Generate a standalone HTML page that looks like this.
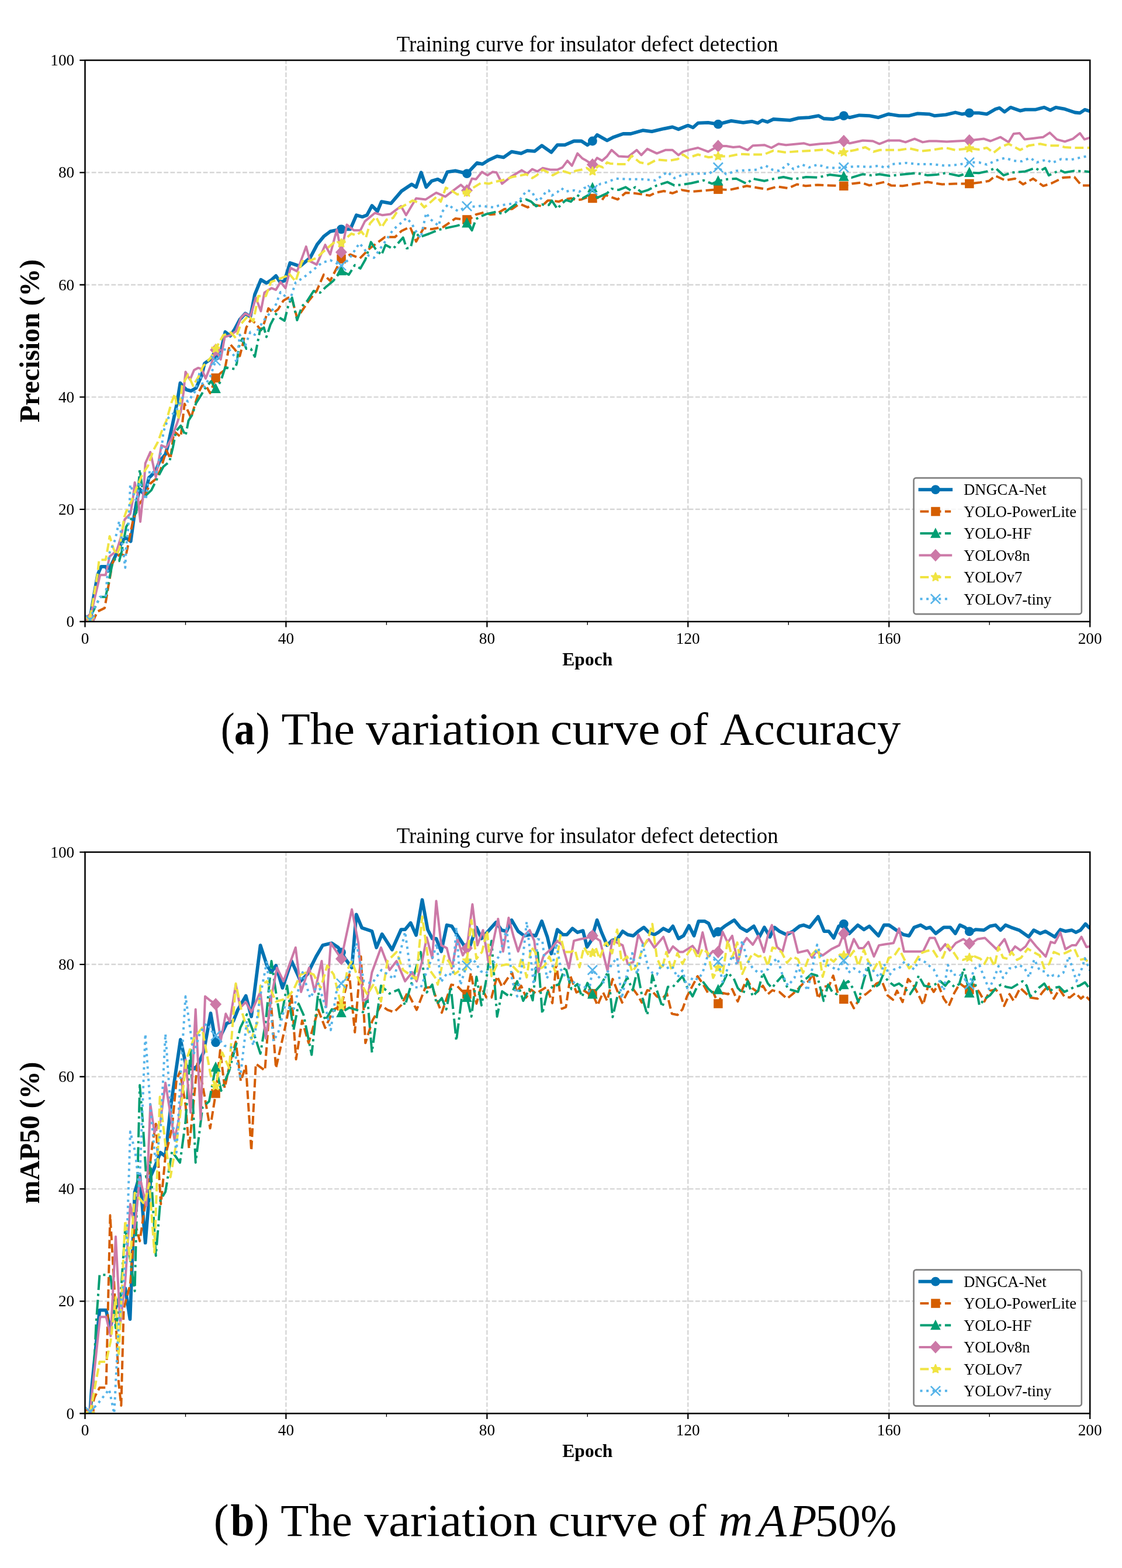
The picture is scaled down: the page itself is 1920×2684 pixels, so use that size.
<!DOCTYPE html><html><head><meta charset="utf-8"><title>Training curves</title>
<style>html,body{margin:0;padding:0;background:#fff;}svg{display:block;}</style></head><body>
<svg width="1920" height="2684" viewBox="0 0 1920 2684">
<rect width="1920" height="2684" fill="#fff"/>
<path d="M489.4 1064.0V103.1M833.4 1064.0V103.1M1177.3 1064.0V103.1M1521.3 1064.0V103.1M145.5 871.8H1865.2M145.5 679.6H1865.2M145.5 487.5H1865.2M145.5 295.3H1865.2" stroke="#d6d6d6" stroke-width="2.4" stroke-dasharray="7.83 3.4" fill="none"/>
<clipPath id="c1"><rect x="145.5" y="103.1" width="1719.7" height="960.9"/></clipPath>
<g clip-path="url(#c1)">
<polyline points="154.1,1059.2 159.3,1027.5 167.0,984.2 173.0,969.8 180.8,969.8 185.1,977.5 194.5,958.3 201.4,942.9 210.8,923.7 216.0,920.8 223.7,926.6 229.8,882.4 234.1,856.4 239.2,837.2 247.8,847.8 254.7,818.0 259.9,813.2 266.7,805.5 272.8,790.1 283.1,777.7 287.4,762.3 296.0,722.9 302.9,690.2 308.4,655.6 312.3,660.4 319.2,667.1 326.9,669.1 335.5,664.3 345.0,643.1 350.1,622.0 359.6,615.3 369.1,609.5 377.7,602.8 385.4,568.2 394.0,574.9 401.7,563.4 410.3,547.0 419.8,536.5 428.4,542.2 436.1,503.8 446.4,478.8 455.9,484.6 463.6,479.8 472.2,472.1 479.1,482.7 486.9,480.7 496.3,450.0 513.5,455.8 530.7,441.3 542.8,418.3 553.9,404.8 565.1,396.2 584.0,392.3 599.5,392.3 609.8,368.3 620.1,371.2 627.9,368.3 636.5,352.0 645.9,361.6 652.8,345.2 669.1,348.1 687.2,327.0 704.4,315.5 712.1,320.3 720.7,295.3 729.3,320.3 738.8,309.7 749.1,306.8 757.7,311.6 765.5,294.3 779.2,292.4 792.1,295.3 799.0,297.2 816.2,278.9 825.6,280.9 836.0,274.1 850.6,267.4 861.8,269.3 875.5,259.7 891.8,262.6 902.2,257.8 915.1,258.8 927.1,249.2 943.4,260.7 953.8,248.2 966.7,248.2 982.1,241.5 995.0,241.5 1005.3,248.2 1013.9,241.5 1021.7,230.9 1038.9,240.5 1050.1,234.7 1066.4,229.0 1079.3,229.0 1099.9,223.2 1115.4,225.1 1136.0,220.3 1150.7,217.4 1161.0,221.3 1177.3,214.6 1185.9,218.4 1194.5,210.7 1211.7,209.8 1228.9,212.6 1251.3,206.9 1271.9,209.8 1286.5,207.8 1296.8,210.7 1304.6,205.9 1313.2,208.8 1323.5,204.0 1351.9,205.9 1366.5,202.1 1384.5,201.1 1400.9,198.2 1409.5,203.0 1425.8,204.0 1443.9,198.2 1454.2,201.1 1470.5,197.3 1487.7,198.2 1503.2,201.1 1520.4,195.3 1538.5,198.2 1554.8,198.2 1570.3,194.4 1590.0,195.3 1599.5,198.2 1618.4,196.3 1634.8,192.5 1645.9,195.3 1658.8,193.4 1675.2,193.4 1688.9,195.3 1703.5,186.7 1710.4,184.8 1719.0,191.5 1729.3,183.8 1745.7,189.6 1754.3,187.7 1771.5,187.7 1787.0,183.8 1797.3,188.6 1806.7,183.8 1822.2,186.7 1839.4,192.5 1848.0,193.4 1856.6,187.7 1865.2,190.5" stroke="#0072B2" stroke-width="5.8" fill="none" stroke-linejoin="round"/>
<circle cx="154.1" cy="1059.2" r="7.9" fill="#0072B2"/>
<circle cx="369.1" cy="609.5" r="7.9" fill="#0072B2"/>
<circle cx="584.0" cy="392.3" r="7.9" fill="#0072B2"/>
<circle cx="799.0" cy="297.2" r="7.9" fill="#0072B2"/>
<circle cx="1013.9" cy="241.5" r="7.9" fill="#0072B2"/>
<circle cx="1228.9" cy="212.6" r="7.9" fill="#0072B2"/>
<circle cx="1443.9" cy="198.2" r="7.9" fill="#0072B2"/>
<circle cx="1658.8" cy="193.4" r="7.9" fill="#0072B2"/>
<polyline points="154.1,1061.1 161.8,1057.3 167.0,1046.7 179.0,1040.9 182.5,1021.7 185.1,1005.4 189.4,981.4 191.9,965.0 196.2,956.4 206.5,947.7 215.1,952.5 220.3,927.6 227.2,893.0 235.8,866.1 245.2,853.6 257.3,827.6 266.7,819.9 274.5,804.6 284.8,770.9 291.7,785.3 297.7,738.3 309.3,747.9 315.8,691.2 322.6,705.6 326.9,715.2 335.5,686.4 340.7,670.0 346.7,658.5 353.6,662.3 359.6,672.9 369.1,647.0 377.7,638.3 384.5,633.5 390.6,600.8 394.0,589.3 401.7,598.0 410.3,609.5 414.6,593.2 421.5,560.5 429.3,547.0 437.8,553.8 446.4,565.3 452.5,551.8 459.3,527.8 467.9,535.5 475.7,529.7 485.1,514.4 493.7,509.6 499.8,512.4 508.4,544.2 517.0,531.7 528.1,515.3 541.9,498.0 553.9,470.2 565.1,480.7 576.3,458.6 584.0,443.3 599.5,435.6 615.8,442.3 633.0,425.0 645.9,415.4 658.8,405.8 676.0,405.8 687.2,395.2 701.8,388.5 712.1,413.5 725.0,390.4 738.8,392.3 758.6,388.5 779.2,374.1 799.0,376.0 804.1,375.0 814.5,367.3 829.1,363.5 839.4,367.3 848.9,366.4 863.5,357.7 876.4,357.7 885.8,351.0 891.8,350.1 903.0,354.9 912.5,350.1 927.1,352.9 937.4,343.3 944.3,343.3 956.3,345.2 964.9,341.4 977.0,339.5 986.4,342.4 995.0,341.4 1005.3,337.6 1013.9,339.5 1024.3,338.5 1030.3,342.4 1036.3,333.7 1056.9,341.4 1070.7,329.9 1085.3,330.8 1099.9,332.8 1112.0,334.7 1121.4,329.9 1136.0,327.0 1150.7,330.8 1166.1,325.1 1183.3,328.0 1207.4,326.0 1228.9,324.1 1247.8,325.1 1265.9,321.2 1277.9,318.3 1295.1,321.2 1313.2,324.1 1330.4,319.3 1348.4,322.2 1363.9,315.5 1378.5,318.3 1399.2,316.4 1419.8,317.4 1443.9,318.3 1457.6,314.5 1474.0,312.6 1487.7,317.4 1513.5,311.6 1524.7,317.4 1544.5,318.3 1567.7,314.5 1587.5,311.6 1612.4,315.5 1634.8,314.5 1658.8,314.5 1675.2,312.6 1692.4,309.7 1703.5,301.0 1719.9,308.7 1737.1,305.8 1750.8,315.5 1768.0,305.8 1785.2,318.3 1799.9,313.5 1819.6,303.9 1838.5,303.0 1850.6,317.4 1865.2,317.4" stroke="#D55E00" stroke-width="4" fill="none" stroke-linejoin="round" stroke-dasharray="14.8 6.4"/>
<rect x="146.3" y="1053.4" width="15.5" height="15.5" fill="#D55E00"/>
<rect x="361.3" y="639.2" width="15.5" height="15.5" fill="#D55E00"/>
<rect x="576.3" y="435.5" width="15.5" height="15.5" fill="#D55E00"/>
<rect x="791.2" y="368.2" width="15.5" height="15.5" fill="#D55E00"/>
<rect x="1006.2" y="331.7" width="15.5" height="15.5" fill="#D55E00"/>
<rect x="1221.2" y="316.4" width="15.5" height="15.5" fill="#D55E00"/>
<rect x="1436.1" y="310.6" width="15.5" height="15.5" fill="#D55E00"/>
<rect x="1651.1" y="306.7" width="15.5" height="15.5" fill="#D55E00"/>
<polyline points="154.1,1061.1 157.5,1050.5 171.3,1021.7 180.8,1021.7 186.8,991.9 191.9,966.9 197.1,956.4 204.0,960.2 208.3,943.9 216.0,901.6 224.6,888.2 233.2,877.6 239.2,803.6 243.5,836.3 248.7,848.8 259.0,839.1 268.5,819.9 279.6,798.8 290.0,790.1 296.0,765.2 301.1,738.3 309.3,728.6 317.5,745.9 322.6,720.0 328.6,710.4 335.5,690.2 343.3,677.7 351.9,663.3 361.3,652.7 369.1,665.2 377.7,652.7 385.4,628.7 394.0,630.6 401.7,631.6 405.2,622.0 408.6,594.1 414.6,579.7 421.5,597.0 429.3,597.0 436.1,610.5 444.7,566.3 451.6,560.5 455.9,576.8 462.8,555.7 472.2,537.4 479.1,544.2 486.9,549.0 493.7,521.1 499.8,509.6 508.4,548.0 517.0,524.0 525.6,515.3 536.7,498.0 547.9,500.9 556.5,492.3 570.3,480.7 584.0,463.4 596.9,470.2 607.2,453.8 616.7,459.6 625.3,444.2 634.8,414.4 642.5,426.0 652.8,436.5 659.7,419.2 672.6,426.0 679.5,418.3 689.8,406.7 695.8,425.0 702.7,424.0 709.6,396.2 718.2,405.8 734.5,400.0 750.8,393.3 768.0,389.4 780.9,386.6 799.0,381.8 807.6,394.3 814.5,375.0 823.1,370.2 832.5,366.4 848.9,362.5 860.9,366.4 873.8,355.8 888.4,345.2 900.4,341.4 909.0,345.2 917.6,352.9 927.1,350.1 939.1,351.0 944.3,343.3 953.8,357.7 959.8,350.1 968.4,342.4 977.0,345.2 987.3,333.7 996.8,339.5 1007.1,333.7 1013.9,321.2 1021.7,338.5 1028.6,335.6 1038.9,330.8 1046.6,323.1 1058.7,325.1 1070.7,320.3 1079.3,326.0 1087.0,320.3 1097.4,328.9 1109.4,325.1 1124.0,317.4 1142.1,311.6 1154.1,317.4 1166.1,316.4 1183.3,313.5 1204.0,308.7 1218.6,314.5 1228.9,309.7 1245.2,306.8 1259.9,305.8 1277.9,314.5 1288.2,305.8 1308.0,309.7 1325.2,305.8 1340.7,303.0 1357.9,306.8 1379.4,303.0 1399.2,303.9 1419.8,299.1 1443.9,302.0 1457.6,303.9 1476.5,298.2 1491.2,300.1 1504.9,298.2 1522.1,301.0 1547.9,298.2 1567.7,296.2 1587.5,300.1 1602.1,299.1 1618.4,296.2 1640.8,301.0 1658.8,295.3 1675.2,296.2 1688.9,293.4 1703.5,287.6 1717.3,300.1 1731.9,295.3 1754.3,293.4 1771.5,287.6 1780.1,292.4 1788.7,287.6 1794.7,300.1 1813.6,291.4 1822.2,295.3 1838.5,292.4 1858.3,293.4 1865.2,294.3" stroke="#009E73" stroke-width="4" fill="none" stroke-linejoin="round" stroke-dasharray="25.6 6.4 4 6.4"/>
<polygon points="154.1,1051.4 145.3,1068.9 162.9,1068.9" fill="#009E73"/>
<polygon points="369.1,655.5 360.3,673.0 377.9,673.0" fill="#009E73"/>
<polygon points="584.0,453.7 575.2,471.2 592.8,471.2" fill="#009E73"/>
<polygon points="799.0,372.1 790.2,389.6 807.8,389.6" fill="#009E73"/>
<polygon points="1013.9,311.5 1005.1,329.0 1022.7,329.0" fill="#009E73"/>
<polygon points="1228.9,300.0 1220.1,317.5 1237.7,317.5" fill="#009E73"/>
<polygon points="1443.9,292.3 1435.1,309.8 1452.7,309.8" fill="#009E73"/>
<polygon points="1658.8,285.6 1650.0,303.1 1667.6,303.1" fill="#009E73"/>
<polyline points="154.1,1059.2 156.7,1046.7 171.3,984.2 180.8,984.2 187.6,952.5 199.7,942.9 206.5,920.8 213.4,889.1 222.9,879.5 227.2,856.4 230.6,825.7 235.8,846.8 240.1,893.0 246.1,836.3 248.7,793.0 257.3,773.8 266.7,817.0 276.2,762.3 284.8,766.1 293.4,750.7 302.9,724.8 309.3,704.6 314.0,672.0 317.5,636.4 325.2,649.9 332.1,633.5 339.0,629.7 345.0,631.6 351.9,647.9 361.3,623.9 369.1,598.9 377.7,615.3 384.5,576.8 394.0,573.9 403.5,567.2 412.1,544.2 419.8,536.5 428.4,541.3 437.8,509.6 446.4,532.6 452.5,500.9 464.5,493.2 472.2,496.1 480.0,482.7 488.6,493.2 497.2,458.6 508.4,464.4 523.8,422.1 530.7,447.1 541.9,452.9 556.5,419.2 565.1,435.6 576.3,393.3 584.0,431.7 593.5,384.6 605.5,394.3 616.7,394.3 624.4,378.9 641.6,364.5 654.5,368.3 668.3,366.4 686.3,352.9 694.9,368.3 712.1,339.5 728.5,341.4 746.5,329.9 762.0,336.6 775.8,326.0 788.7,316.4 799.0,326.0 807.6,305.8 814.5,306.8 824.8,294.3 834.2,300.1 842.8,294.3 849.7,295.3 859.2,314.5 873.8,303.0 883.3,297.2 892.7,291.4 902.2,297.2 910.8,289.5 919.4,293.4 928.8,287.6 941.7,290.5 953.8,290.5 962.4,286.6 971.0,275.1 978.7,283.7 988.2,262.6 996.8,271.3 1003.6,275.1 1013.9,281.8 1021.7,270.3 1030.3,275.1 1038.9,267.4 1046.6,256.8 1058.7,267.4 1075.0,268.4 1089.6,256.8 1097.4,265.5 1107.7,254.9 1124.0,262.6 1138.6,256.8 1150.7,256.8 1161.0,265.5 1168.7,259.7 1181.6,255.9 1194.5,253.0 1211.7,259.7 1228.9,250.1 1242.7,250.1 1254.7,252.0 1265.9,251.1 1279.6,256.8 1288.2,249.2 1308.0,248.2 1320.1,253.0 1332.1,246.3 1345.0,248.2 1355.3,247.2 1375.9,245.3 1385.4,248.2 1403.5,246.3 1420.7,245.3 1443.9,241.5 1454.2,245.3 1476.5,240.5 1493.7,241.5 1504.9,246.3 1519.5,240.5 1539.3,240.5 1549.6,243.4 1565.1,237.6 1578.9,243.4 1590.0,241.5 1602.1,241.5 1620.1,242.4 1638.2,241.5 1658.8,240.5 1683.8,237.6 1694.9,241.5 1712.1,234.7 1725.9,243.4 1734.5,229.0 1744.8,228.0 1753.4,238.6 1768.9,236.7 1785.2,234.7 1796.4,227.1 1808.4,238.6 1822.2,242.4 1836.0,237.6 1848.0,228.0 1855.7,238.6 1865.2,235.7" stroke="#CC79A7" stroke-width="4" fill="none" stroke-linejoin="round"/>
<polygon points="154.1,1048.4 164.1,1059.2 154.1,1070.0 144.1,1059.2" fill="#CC79A7"/>
<polygon points="369.1,588.1 379.1,598.9 369.1,609.7 359.1,598.9" fill="#CC79A7"/>
<polygon points="584.0,420.9 594.0,431.7 584.0,442.5 574.0,431.7" fill="#CC79A7"/>
<polygon points="799.0,315.2 809.0,326.0 799.0,336.8 789.0,326.0" fill="#CC79A7"/>
<polygon points="1013.9,271.0 1023.9,281.8 1013.9,292.6 1003.9,281.8" fill="#CC79A7"/>
<polygon points="1228.9,239.3 1238.9,250.1 1228.9,260.9 1218.9,250.1" fill="#CC79A7"/>
<polygon points="1443.9,230.7 1453.9,241.5 1443.9,252.3 1433.9,241.5" fill="#CC79A7"/>
<polygon points="1658.8,229.7 1668.8,240.5 1658.8,251.3 1648.8,240.5" fill="#CC79A7"/>
<polyline points="154.1,1059.2 155.0,1053.4 167.0,981.4 169.6,958.3 180.8,958.3 185.1,934.3 187.6,917.9 194.5,940.0 199.7,949.7 204.8,937.2 212.6,885.3 216.0,875.7 224.6,858.4 233.2,836.3 243.5,812.2 253.0,797.8 262.4,770.9 270.2,756.5 278.8,732.5 284.8,720.0 293.4,689.2 299.4,673.9 305.4,718.1 311.5,660.4 321.8,641.2 330.4,660.4 339.0,646.0 347.6,626.8 360.5,612.4 369.1,597.0 382.0,573.9 394.9,569.1 403.5,578.7 412.1,554.7 425.0,540.3 433.5,549.9 442.1,506.7 455.0,506.7 463.6,482.7 476.5,477.9 489.4,473.0 493.7,467.3 505.8,481.7 517.0,447.1 528.1,447.1 541.9,441.3 556.5,427.9 573.7,413.5 584.0,416.4 593.5,406.7 601.2,400.0 609.8,402.9 618.4,396.2 626.2,406.7 633.0,382.7 643.4,371.2 652.8,389.4 661.4,376.0 672.6,373.1 682.9,356.8 693.2,351.0 706.1,343.3 719.9,348.1 725.9,354.9 734.5,348.1 747.4,336.6 754.3,345.2 762.9,321.2 772.3,326.0 782.6,332.8 799.0,329.9 808.4,322.2 823.9,312.6 836.8,314.5 844.6,311.6 859.2,308.7 876.4,303.0 891.8,300.1 900.4,298.2 910.8,304.9 918.5,300.1 928.8,290.5 940.0,296.2 946.0,300.1 959.8,292.4 968.4,294.3 977.0,297.2 984.7,292.4 995.0,290.5 1003.6,287.6 1013.9,293.4 1024.3,283.7 1032.0,286.6 1038.9,278.0 1044.0,279.9 1058.7,280.9 1070.7,280.9 1081.0,266.5 1094.8,278.0 1109.4,280.9 1124.0,273.2 1144.6,275.1 1160.1,272.2 1168.7,264.5 1177.3,270.3 1194.5,264.5 1212.6,269.3 1228.9,267.4 1247.8,267.4 1265.9,263.6 1283.9,264.5 1307.2,264.5 1323.5,257.8 1343.3,260.7 1369.9,258.8 1390.6,257.8 1413.8,255.9 1429.3,263.6 1443.9,260.7 1463.7,256.8 1480.8,252.0 1494.6,259.7 1505.8,256.8 1523.0,256.8 1539.3,256.8 1556.5,254.0 1576.3,258.8 1593.5,256.8 1618.4,253.0 1634.8,256.8 1658.8,254.0 1675.2,255.9 1688.9,253.0 1700.1,261.6 1712.1,252.0 1725.9,246.3 1745.7,256.8 1760.3,249.2 1780.1,246.3 1793.8,249.2 1811.0,249.2 1822.2,252.0 1838.5,253.0 1865.2,253.0" stroke="#F0E442" stroke-width="4" fill="none" stroke-linejoin="round" stroke-dasharray="14.8 6.4"/>
<polygon points="154.1,1051.2 156.2,1056.4 161.7,1056.7 157.4,1060.3 158.8,1065.7 154.1,1062.7 149.4,1065.7 150.8,1060.3 146.5,1056.7 152.0,1056.4" fill="#F0E442" stroke="#F0E442" stroke-width="1.8" stroke-linejoin="bevel"/>
<polygon points="369.1,589.0 371.1,594.2 376.7,594.5 372.4,598.1 373.8,603.5 369.1,600.5 364.4,603.5 365.7,598.1 361.5,594.5 367.0,594.2" fill="#F0E442" stroke="#F0E442" stroke-width="1.8" stroke-linejoin="bevel"/>
<polygon points="584.0,408.4 586.1,413.5 591.6,413.9 587.4,417.4 588.7,422.8 584.0,419.9 579.3,422.8 580.7,417.4 576.4,413.9 582.0,413.5" fill="#F0E442" stroke="#F0E442" stroke-width="1.8" stroke-linejoin="bevel"/>
<polygon points="799.0,321.9 801.0,327.0 806.6,327.4 802.3,331.0 803.7,336.3 799.0,333.4 794.3,336.3 795.7,331.0 791.4,327.4 796.9,327.0" fill="#F0E442" stroke="#F0E442" stroke-width="1.8" stroke-linejoin="bevel"/>
<polygon points="1013.9,285.4 1016.0,290.5 1021.6,290.9 1017.3,294.4 1018.7,299.8 1013.9,296.9 1009.2,299.8 1010.6,294.4 1006.3,290.9 1011.9,290.5" fill="#F0E442" stroke="#F0E442" stroke-width="1.8" stroke-linejoin="bevel"/>
<polygon points="1228.9,259.4 1231.0,264.6 1236.5,264.9 1232.2,268.5 1233.6,273.9 1228.9,270.9 1224.2,273.9 1225.6,268.5 1221.3,264.9 1226.9,264.6" fill="#F0E442" stroke="#F0E442" stroke-width="1.8" stroke-linejoin="bevel"/>
<polygon points="1443.9,252.7 1445.9,257.9 1451.5,258.2 1447.2,261.8 1448.6,267.2 1443.9,264.2 1439.2,267.2 1440.5,261.8 1436.3,258.2 1441.8,257.9" fill="#F0E442" stroke="#F0E442" stroke-width="1.8" stroke-linejoin="bevel"/>
<polygon points="1658.8,246.0 1660.9,251.1 1666.4,251.5 1662.2,255.0 1663.5,260.4 1658.8,257.5 1654.1,260.4 1655.5,255.0 1651.2,251.5 1656.8,251.1" fill="#F0E442" stroke="#F0E442" stroke-width="1.8" stroke-linejoin="bevel"/>
<polyline points="154.1,1061.1 160.1,1043.8 171.3,1021.7 180.8,1021.7 182.5,998.7 184.2,979.4 186.8,947.7 197.1,923.7 204.0,892.0 206.5,908.3 214.3,971.8 216.0,935.2 219.4,904.5 222.0,854.5 222.9,829.5 233.2,858.4 239.2,824.7 249.5,855.5 256.4,804.6 266.7,812.2 276.2,770.9 279.6,739.2 288.2,715.2 301.1,703.7 312.3,680.6 321.8,687.3 333.8,670.0 341.5,638.3 348.4,664.3 359.6,645.0 369.1,617.2 380.2,599.9 390.6,596.0 400.9,609.5 405.2,621.0 410.3,573.0 419.8,591.2 428.4,568.2 436.1,573.0 447.3,554.7 455.9,542.2 463.6,534.5 472.2,521.1 480.0,500.0 488.6,507.6 496.3,513.4 505.8,483.6 519.5,475.0 536.7,461.5 550.5,450.0 565.1,445.2 584.0,454.8 596.9,444.2 615.0,416.4 622.7,425.0 630.5,437.5 639.9,441.3 651.1,425.0 663.1,407.7 672.6,393.3 683.8,383.7 695.8,373.1 704.4,382.7 712.1,396.2 719.9,407.7 729.3,364.5 736.2,375.0 750.8,386.6 756.0,363.5 766.3,350.1 775.8,356.8 784.4,361.6 799.0,352.9 814.5,353.9 824.8,352.0 834.2,353.9 844.6,354.9 853.2,352.0 866.1,350.1 879.8,348.1 888.4,344.3 894.4,334.7 902.2,326.0 910.8,328.0 915.1,338.5 921.1,344.3 928.8,336.6 934.0,328.0 939.1,326.0 944.3,334.7 953.8,328.9 960.6,322.2 968.4,328.0 976.1,326.0 983.0,326.0 991.6,328.0 999.3,322.2 1007.1,319.3 1013.9,325.1 1021.7,319.3 1027.7,314.5 1036.3,312.6 1054.4,305.8 1074.1,306.8 1097.4,306.8 1121.4,308.7 1142.1,294.3 1154.1,304.9 1166.1,300.1 1177.3,298.2 1195.4,297.2 1213.4,297.2 1228.9,286.6 1242.7,298.2 1259.9,292.4 1277.9,291.4 1295.1,290.5 1310.6,283.7 1321.8,290.5 1333.8,292.4 1348.4,280.9 1357.9,289.5 1372.5,281.8 1384.5,286.6 1399.2,281.8 1413.8,286.6 1429.3,287.6 1443.9,286.6 1465.4,284.7 1487.7,285.7 1504.9,283.7 1516.1,287.6 1527.3,280.9 1550.5,278.9 1570.3,280.9 1592.6,280.9 1618.4,283.7 1640.8,281.8 1658.8,278.0 1675.2,278.0 1688.9,281.8 1703.5,275.1 1719.9,270.3 1734.5,275.1 1748.3,276.1 1762.9,270.3 1774.1,278.0 1791.3,273.2 1799.9,278.9 1816.2,272.2 1833.4,273.2 1850.6,269.3 1865.2,266.5" stroke="#56B4E9" stroke-width="4" fill="none" stroke-linejoin="round" stroke-dasharray="4 6.6"/>
<path d="M146.0 1053.0L162.2 1069.2M146.0 1069.2L162.2 1053.0" stroke="#56B4E9" stroke-width="2.6" fill="none"/>
<path d="M361.0 609.1L377.2 625.3M361.0 625.3L377.2 609.1" stroke="#56B4E9" stroke-width="2.6" fill="none"/>
<path d="M575.9 446.7L592.1 462.9M575.9 462.9L592.1 446.7" stroke="#56B4E9" stroke-width="2.6" fill="none"/>
<path d="M790.9 344.8L807.1 361.0M790.9 361.0L807.1 344.8" stroke="#56B4E9" stroke-width="2.6" fill="none"/>
<path d="M1005.8 317.0L1022.0 333.2M1005.8 333.2L1022.0 317.0" stroke="#56B4E9" stroke-width="2.6" fill="none"/>
<path d="M1220.8 278.5L1237.0 294.7M1220.8 294.7L1237.0 278.5" stroke="#56B4E9" stroke-width="2.6" fill="none"/>
<path d="M1435.8 278.5L1452.0 294.7M1435.8 294.7L1452.0 278.5" stroke="#56B4E9" stroke-width="2.6" fill="none"/>
<path d="M1650.7 269.9L1666.9 286.1M1650.7 286.1L1666.9 269.9" stroke="#56B4E9" stroke-width="2.6" fill="none"/>
</g>
<rect x="145.5" y="103.1" width="1719.7" height="960.9" fill="none" stroke="#000" stroke-width="2.5"/>
<path d="M145.5 1064.0v9.4M489.4 1064.0v9.4M833.4 1064.0v9.4M1177.3 1064.0v9.4M1521.3 1064.0v9.4M1865.2 1064.0v9.4M145.5 1064.0h-9.2M145.5 871.8h-9.2M145.5 679.6h-9.2M145.5 487.5h-9.2M145.5 295.3h-9.2M145.5 103.1h-9.2" stroke="#000" stroke-width="2.3" fill="none"/>
<path d="M317.5 1064.0v5.7M661.4 1064.0v5.7M1005.3 1064.0v5.7M1349.3 1064.0v5.7M1693.2 1064.0v5.7" stroke="#000" stroke-width="1.4" fill="none"/>
<g font-family="'Liberation Serif','Times New Roman',serif" font-size="27.3" fill="#000">
<text x="145.5" y="1101.8" text-anchor="middle">0</text>
<text x="489.4" y="1101.8" text-anchor="middle">40</text>
<text x="833.4" y="1101.8" text-anchor="middle">80</text>
<text x="1177.3" y="1101.8" text-anchor="middle">120</text>
<text x="1521.3" y="1101.8" text-anchor="middle">160</text>
<text x="1865.2" y="1101.8" text-anchor="middle">200</text>
<text x="127.2" y="1073.1" text-anchor="end">0</text>
<text x="127.2" y="880.9" text-anchor="end">20</text>
<text x="127.2" y="688.7" text-anchor="end">40</text>
<text x="127.2" y="496.6" text-anchor="end">60</text>
<text x="127.2" y="304.4" text-anchor="end">80</text>
<text x="127.2" y="112.2" text-anchor="end">100</text>
</g>
<text x="1005.3" y="87.7" font-family="'Liberation Serif','Times New Roman',serif" font-size="37" text-anchor="middle">Training curve for insulator defect detection</text>
<text x="1005.3" y="1138.7" font-family="'Liberation Serif','Times New Roman',serif" font-size="31.6" font-weight="bold" text-anchor="middle">Epoch</text>
<text transform="translate(67.1,583.5) rotate(-90)" font-family="'Liberation Serif','Times New Roman',serif" font-size="47.8" font-weight="bold" text-anchor="middle">Precision (%)</text>
<rect x="1563.6" y="818.1" width="287.2" height="233.0" rx="4" fill="#fff" fill-opacity="0.8" stroke="#808080" stroke-width="2.6"/>
<path d="M1574.5 838.1H1627.2" stroke="#0072B2" stroke-width="5.8" stroke-linecap="square"/>
<circle cx="1600.9" cy="838.1" r="7.9" fill="#0072B2"/>
<text x="1649.2" y="847.4" font-family="'Liberation Serif','Times New Roman',serif" font-size="26.5">DNGCA-Net</text>
<path d="M1574.5 875.6H1627.2" stroke="#D55E00" stroke-width="4" stroke-dasharray="14.8 6.4"/>
<rect x="1593.2" y="867.8" width="15.5" height="15.5" fill="#D55E00"/>
<text x="1649.2" y="884.9" font-family="'Liberation Serif','Times New Roman',serif" font-size="26.5">YOLO-PowerLite</text>
<path d="M1574.5 913.0H1627.2" stroke="#009E73" stroke-width="4" stroke-dasharray="25.6 6.4 4 6.4"/>
<polygon points="1600.9,903.3 1592.1,920.8 1609.7,920.8" fill="#009E73"/>
<text x="1649.2" y="922.3" font-family="'Liberation Serif','Times New Roman',serif" font-size="26.5">YOLO-HF</text>
<path d="M1574.5 950.5H1627.2" stroke="#CC79A7" stroke-width="4" stroke-linecap="square"/>
<polygon points="1600.9,939.7 1610.9,950.5 1600.9,961.2 1590.9,950.5" fill="#CC79A7"/>
<text x="1649.2" y="959.8" font-family="'Liberation Serif','Times New Roman',serif" font-size="26.5">YOLOv8n</text>
<path d="M1574.5 987.9H1627.2" stroke="#F0E442" stroke-width="4" stroke-dasharray="14.8 6.4"/>
<polygon points="1600.9,979.9 1603.0,985.1 1608.5,985.4 1604.2,989.0 1605.6,994.4 1600.9,991.4 1596.2,994.4 1597.6,989.0 1593.3,985.4 1598.8,985.1" fill="#F0E442" stroke="#F0E442" stroke-width="1.8" stroke-linejoin="bevel"/>
<text x="1649.2" y="997.2" font-family="'Liberation Serif','Times New Roman',serif" font-size="26.5">YOLOv7</text>
<path d="M1574.5 1025.3H1627.2" stroke="#56B4E9" stroke-width="4" stroke-dasharray="4 6.6"/>
<path d="M1592.8 1017.2L1609.0 1033.4M1592.8 1033.4L1609.0 1017.2" stroke="#56B4E9" stroke-width="2.6" fill="none"/>
<text x="1649.2" y="1034.6" font-family="'Liberation Serif','Times New Roman',serif" font-size="26.5">YOLOv7-tiny</text>
<path d="M489.4 2419.5V1458.6M833.4 2419.5V1458.6M1177.3 2419.5V1458.6M1521.3 2419.5V1458.6M145.5 2227.3H1865.2M145.5 2035.1H1865.2M145.5 1843.0H1865.2M145.5 1650.8H1865.2" stroke="#d6d6d6" stroke-width="2.4" stroke-dasharray="7.83 3.4" fill="none"/>
<clipPath id="c2"><rect x="145.5" y="1458.6" width="1719.7" height="960.9"/></clipPath>
<g clip-path="url(#c2)">
<polyline points="154.1,2419.5 156.7,2378.2 170.4,2242.7 181.6,2242.7 188.1,2273.4 198.0,2238.9 205.7,2216.8 214.3,2205.2 222.5,2258.1 230.6,2040.9 239.2,2011.1 248.7,2127.4 258.1,2013.0 266.7,1992.9 274.5,1972.7 283.1,1979.4 292.5,1891.0 308.9,1779.5 319.2,1827.6 326.9,1823.7 332.9,1829.5 338.1,1823.7 348.4,1801.6 360.5,1734.4 369.1,1784.3 376.8,1774.7 388.0,1751.7 399.2,1747.8 406.9,1728.6 420.7,1704.6 430.1,1740.1 445.6,1618.1 456.8,1652.7 464.5,1664.2 472.2,1652.7 483.4,1691.1 498.9,1645.0 514.4,1679.6 525.6,1668.1 541.0,1637.3 552.2,1618.1 567.7,1614.3 578.9,1622.0 590.9,1641.2 602.1,1656.5 609.8,1565.3 619.3,1588.3 636.5,1594.1 644.2,1622.0 653.7,1598.9 670.9,1625.8 686.3,1591.2 693.2,1591.2 702.7,1579.7 712.1,1600.8 722.5,1540.3 731.9,1591.2 739.7,1606.6 746.5,1606.6 755.1,1628.7 764.6,1583.5 773.2,1585.4 784.4,1603.7 793.8,1618.1 802.4,1624.8 815.3,1587.4 823.9,1606.6 836.8,1592.2 848.9,1578.7 858.3,1592.2 866.9,1594.1 875.5,1574.9 886.7,1594.1 897.0,1601.8 907.3,1599.9 916.8,1601.8 927.1,1576.8 936.6,1603.7 943.4,1632.5 953.8,1591.2 963.2,1599.9 970.1,1599.9 979.6,1589.3 988.2,1596.0 997.6,1593.1 1004.5,1621.0 1011.4,1610.4 1021.7,1574.9 1029.4,1596.0 1038.9,1618.1 1047.5,1609.5 1056.1,1607.5 1065.5,1594.1 1074.1,1599.9 1083.6,1601.8 1092.2,1594.1 1101.7,1587.4 1110.3,1596.0 1119.7,1599.9 1126.6,1596.0 1135.2,1589.3 1144.6,1594.1 1151.5,1585.4 1161.0,1606.6 1169.6,1601.8 1179.0,1584.5 1187.6,1601.8 1195.4,1576.8 1205.7,1576.8 1212.6,1580.6 1222.0,1601.8 1230.6,1593.1 1240.1,1585.4 1256.4,1574.9 1266.7,1587.4 1277.9,1594.1 1290.0,1585.4 1299.4,1603.7 1308.0,1587.4 1317.5,1603.7 1325.2,1587.4 1333.8,1594.1 1345.9,1599.9 1357.0,1594.1 1368.2,1585.4 1375.1,1583.5 1385.4,1587.4 1400.0,1569.1 1410.3,1594.1 1418.1,1594.1 1426.7,1605.6 1435.3,1585.4 1443.9,1581.6 1453.3,1597.9 1467.9,1583.5 1478.3,1591.2 1487.7,1585.4 1503.2,1601.8 1512.7,1583.5 1521.3,1583.5 1532.4,1591.2 1546.2,1599.9 1555.7,1601.8 1564.3,1587.4 1575.4,1583.5 1584.9,1589.3 1591.8,1587.4 1601.2,1597.9 1615.0,1587.4 1626.2,1587.4 1634.8,1597.9 1642.5,1583.5 1651.1,1587.4 1660.6,1596.0 1669.2,1591.2 1683.8,1592.2 1694.1,1585.4 1703.5,1583.5 1712.1,1592.2 1720.7,1583.5 1730.2,1587.4 1744.0,1592.2 1760.3,1603.7 1768.9,1592.2 1780.1,1597.9 1788.7,1594.1 1805.0,1603.7 1814.5,1591.2 1823.1,1594.1 1834.2,1592.2 1841.1,1596.0 1848.9,1592.2 1857.5,1581.6 1865.2,1589.3" stroke="#0072B2" stroke-width="5.8" fill="none" stroke-linejoin="round"/>
<circle cx="154.1" cy="2419.5" r="7.9" fill="#0072B2"/>
<circle cx="369.1" cy="1784.3" r="7.9" fill="#0072B2"/>
<circle cx="584.0" cy="1630.2" r="7.9" fill="#0072B2"/>
<circle cx="799.0" cy="1622.1" r="7.9" fill="#0072B2"/>
<circle cx="1013.9" cy="1601.5" r="7.9" fill="#0072B2"/>
<circle cx="1228.9" cy="1594.9" r="7.9" fill="#0072B2"/>
<circle cx="1443.9" cy="1581.6" r="7.9" fill="#0072B2"/>
<circle cx="1658.8" cy="1594.4" r="7.9" fill="#0072B2"/>
<polyline points="154.1,2419.5 161.8,2391.6 170.4,2375.3 181.6,2375.3 188.5,2080.3 195.4,2198.5 203.1,2366.7 207.4,2406.0 211.7,2240.8 222.9,2198.5 230.6,2091.8 239.2,2124.5 250.4,2047.6 260.7,1959.2 266.7,1923.7 275.3,2061.1 283.1,1978.4 294.3,1931.4 302.0,1848.7 308.0,1834.3 317.5,1891.0 323.5,1966.0 338.1,1817.0 347.6,1862.2 359.6,1931.4 369.1,1871.8 376.8,1797.8 384.5,1862.2 394.9,1814.1 403.5,1783.4 412.1,1850.6 420.7,1824.7 430.1,1969.8 437.8,1820.9 453.3,1832.4 462.8,1702.7 472.2,1828.5 487.7,1759.4 498.9,1702.7 506.6,1813.2 517.0,1746.9 528.1,1785.3 544.5,1728.6 556.5,1759.4 571.1,1727.7 584.0,1721.9 597.8,1668.1 607.2,1767.0 617.6,1637.3 625.3,1785.3 637.3,1746.9 652.0,1720.9 663.1,1728.6 674.3,1732.5 686.3,1720.9 697.5,1698.8 713.0,1728.6 727.6,1691.1 739.7,1689.2 750.8,1720.9 756.0,1733.4 772.3,1685.4 781.8,1687.3 791.2,1696.9 799.0,1701.7 805.9,1665.2 815.3,1718.0 823.1,1689.2 832.5,1707.5 841.1,1707.5 850.6,1671.0 859.2,1689.2 868.6,1674.8 876.4,1665.2 884.1,1698.8 891.8,1687.3 900.4,1707.5 909.0,1694.0 916.8,1700.7 928.0,1694.0 935.7,1689.2 945.2,1717.1 952.0,1648.9 961.5,1726.7 968.4,1723.8 976.1,1671.0 986.4,1698.8 996.8,1694.0 1007.1,1700.7 1013.9,1700.7 1022.5,1720.9 1032.0,1698.8 1038.9,1713.2 1048.3,1675.8 1057.8,1699.8 1064.7,1716.1 1074.1,1697.9 1083.6,1693.1 1091.3,1703.6 1098.2,1716.1 1107.7,1695.0 1116.3,1696.9 1124.0,1705.6 1133.5,1709.4 1141.2,1700.7 1149.8,1735.3 1159.3,1737.3 1167.9,1727.7 1175.6,1705.6 1185.1,1687.3 1193.7,1671.0 1202.3,1683.5 1211.7,1699.8 1220.3,1697.9 1228.9,1718.0 1236.6,1699.8 1246.1,1701.7 1253.0,1693.1 1262.4,1714.2 1270.2,1694.0 1277.9,1675.8 1286.5,1691.1 1296.0,1697.9 1305.4,1687.3 1314.0,1701.7 1321.8,1695.0 1329.5,1697.9 1333.8,1697.9 1346.7,1709.4 1356.2,1701.7 1365.6,1693.1 1374.2,1683.5 1383.7,1679.6 1391.4,1667.1 1400.0,1709.4 1409.5,1689.2 1418.9,1687.3 1425.8,1670.0 1433.6,1699.8 1443.9,1710.4 1454.2,1712.3 1461.1,1725.7 1472.2,1707.5 1481.7,1701.7 1491.2,1694.0 1499.8,1683.5 1509.2,1679.6 1518.7,1703.6 1528.1,1711.3 1535.0,1695.9 1544.5,1715.2 1553.9,1675.8 1562.5,1685.4 1570.3,1699.8 1579.7,1720.0 1589.2,1683.5 1597.8,1697.9 1605.5,1685.4 1615.0,1709.4 1623.6,1721.9 1633.0,1699.8 1642.5,1683.5 1650.2,1689.2 1658.8,1694.0 1666.6,1685.4 1676.0,1698.8 1684.6,1714.2 1694.1,1695.9 1703.5,1694.0 1711.3,1699.8 1718.2,1721.9 1727.6,1701.7 1734.5,1713.2 1745.7,1691.1 1755.1,1699.8 1762.9,1707.5 1775.8,1709.4 1784.4,1697.9 1793.8,1687.3 1803.3,1709.4 1812.7,1693.1 1821.3,1705.6 1830.8,1707.5 1840.3,1699.8 1849.7,1709.4 1856.6,1703.6 1865.2,1712.3" stroke="#D55E00" stroke-width="4" fill="none" stroke-linejoin="round" stroke-dasharray="14.8 6.4"/>
<rect x="146.3" y="2411.8" width="15.5" height="15.5" fill="#D55E00"/>
<rect x="361.3" y="1864.0" width="15.5" height="15.5" fill="#D55E00"/>
<rect x="576.3" y="1714.1" width="15.5" height="15.5" fill="#D55E00"/>
<rect x="791.2" y="1694.0" width="15.5" height="15.5" fill="#D55E00"/>
<rect x="1006.2" y="1693.0" width="15.5" height="15.5" fill="#D55E00"/>
<rect x="1221.2" y="1710.3" width="15.5" height="15.5" fill="#D55E00"/>
<rect x="1436.1" y="1702.6" width="15.5" height="15.5" fill="#D55E00"/>
<rect x="1651.1" y="1686.3" width="15.5" height="15.5" fill="#D55E00"/>
<polyline points="154.1,2419.5 158.4,2391.6 164.4,2267.7 170.4,2182.2 181.6,2182.2 189.4,2185.0 198.0,2273.4 205.7,2229.2 214.3,2102.4 222.9,2157.2 230.6,2210.0 239.2,1857.4 244.4,1920.8 250.4,2019.8 257.3,1987.1 266.7,2149.5 274.5,2054.4 283.1,2039.9 294.3,1970.8 308.0,1990.0 317.5,1919.8 326.1,1796.8 334.7,1990.0 346.7,1894.8 357.9,1885.2 369.1,1826.6 378.5,1867.0 392.3,1832.4 403.5,1790.1 411.2,1759.4 422.4,1736.3 433.5,1766.1 445.6,1803.6 455.0,1746.9 464.5,1645.0 472.2,1698.8 480.0,1747.8 491.2,1687.3 502.3,1763.2 510.9,1718.0 519.5,1737.3 533.3,1805.5 544.5,1698.8 556.5,1746.9 567.7,1727.7 584.0,1733.4 597.8,1724.8 609.8,1728.6 621.0,1732.5 628.7,1708.4 636.5,1801.6 652.0,1687.3 666.6,1700.7 682.0,1694.0 693.2,1720.9 705.3,1679.6 719.9,1629.6 730.2,1698.8 739.7,1685.4 747.4,1719.0 756.0,1708.4 763.7,1727.7 771.5,1689.2 780.9,1781.5 790.4,1705.6 798.1,1703.6 806.7,1740.1 815.3,1671.9 823.9,1720.9 832.5,1674.8 841.1,1610.4 850.6,1740.1 859.2,1696.9 872.9,1706.5 885.0,1679.6 895.3,1713.2 905.6,1693.1 911.6,1712.3 920.2,1630.6 928.0,1735.3 936.6,1698.8 946.9,1687.3 956.3,1685.4 967.5,1654.6 977.8,1693.1 988.2,1684.4 995.9,1706.5 1005.3,1682.5 1013.9,1701.7 1028.6,1685.4 1040.6,1663.3 1048.3,1741.1 1056.9,1703.6 1064.7,1691.1 1073.3,1672.9 1082.7,1695.0 1090.5,1661.3 1099.1,1707.5 1107.7,1737.3 1116.3,1669.0 1124.0,1695.0 1133.5,1723.8 1142.9,1689.2 1151.5,1689.2 1160.1,1679.6 1167.9,1671.0 1175.6,1689.2 1185.1,1705.6 1192.8,1689.2 1202.3,1679.6 1212.6,1693.1 1220.3,1699.8 1228.9,1694.0 1236.6,1683.5 1245.2,1665.2 1255.6,1674.8 1262.4,1691.1 1271.9,1700.7 1279.6,1679.6 1288.2,1705.6 1297.7,1695.0 1305.4,1665.2 1314.0,1683.5 1320.9,1691.1 1330.4,1679.6 1339.0,1670.0 1348.4,1693.1 1356.2,1695.0 1365.6,1697.9 1372.5,1677.7 1380.2,1674.8 1388.8,1667.1 1398.3,1670.0 1409.5,1713.2 1417.2,1685.4 1424.1,1697.9 1431.8,1701.7 1443.9,1685.4 1451.6,1679.6 1461.1,1694.0 1468.8,1715.2 1475.7,1687.3 1485.1,1653.7 1494.6,1691.1 1504.1,1685.4 1510.9,1669.0 1520.4,1679.6 1529.9,1687.3 1538.5,1683.5 1547.9,1691.1 1557.4,1701.7 1566.8,1687.3 1572.0,1670.0 1581.4,1687.3 1590.9,1689.2 1599.5,1685.4 1609.0,1679.6 1617.6,1687.3 1623.6,1679.6 1633.0,1689.2 1641.6,1684.4 1649.4,1657.5 1658.8,1699.8 1666.6,1671.9 1676.0,1720.9 1684.6,1710.4 1694.1,1703.6 1705.3,1690.2 1713.0,1685.4 1721.6,1689.2 1731.1,1691.1 1740.5,1685.4 1750.0,1679.6 1756.9,1687.3 1762.9,1705.6 1770.6,1698.8 1777.5,1691.1 1787.0,1683.5 1795.6,1697.9 1803.3,1691.1 1812.7,1689.2 1821.3,1697.9 1829.9,1694.0 1838.5,1689.2 1847.1,1687.3 1856.6,1681.5 1865.2,1693.1" stroke="#009E73" stroke-width="4" fill="none" stroke-linejoin="round" stroke-dasharray="25.6 6.4 4 6.4"/>
<polygon points="154.1,2409.8 145.3,2427.3 162.9,2427.3" fill="#009E73"/>
<polygon points="369.1,1816.9 360.3,1834.4 377.9,1834.4" fill="#009E73"/>
<polygon points="584.0,1723.7 575.2,1741.2 592.8,1741.2" fill="#009E73"/>
<polygon points="799.0,1697.6 790.2,1715.1 807.8,1715.1" fill="#009E73"/>
<polygon points="1013.9,1692.0 1005.1,1709.5 1022.7,1709.5" fill="#009E73"/>
<polygon points="1228.9,1684.3 1220.1,1701.8 1237.7,1701.8" fill="#009E73"/>
<polygon points="1443.9,1675.7 1435.1,1693.2 1452.7,1693.2" fill="#009E73"/>
<polygon points="1658.8,1690.1 1650.0,1707.6 1667.6,1707.6" fill="#009E73"/>
<polyline points="154.1,2419.5 156.7,2391.6 171.3,2254.2 181.6,2254.2 189.4,2286.9 198.0,2116.8 205.7,2267.7 214.3,2193.7 222.9,2061.1 230.6,2102.4 239.2,2015.0 250.4,2064.0 257.3,1890.0 264.2,1938.1 274.5,1919.8 283.1,1853.5 298.6,1950.6 305.4,1919.8 317.5,1814.1 326.1,1904.5 334.7,1727.7 343.3,1916.0 351.0,1705.6 360.5,1713.2 369.1,1719.0 377.7,1781.5 386.3,1735.3 393.1,1748.8 403.5,1685.4 411.2,1724.8 420.7,1715.2 430.1,1732.5 445.6,1697.9 455.0,1777.6 464.5,1705.6 474.0,1656.5 485.1,1679.6 505.8,1622.0 515.2,1697.9 529.0,1656.5 538.5,1697.9 550.5,1645.0 558.2,1723.8 566.0,1614.3 584.0,1641.2 602.1,1556.6 613.3,1614.3 621.0,1713.2 628.7,1709.4 636.5,1664.2 652.0,1622.0 666.6,1660.4 678.6,1645.0 693.2,1679.6 705.3,1664.2 713.0,1679.6 722.5,1645.0 730.2,1604.7 739.7,1640.2 746.5,1542.2 755.1,1618.1 764.6,1622.9 773.2,1657.5 782.6,1607.5 792.1,1635.4 799.0,1622.9 808.4,1548.0 817.0,1618.1 826.5,1592.2 836.0,1646.9 842.8,1618.1 852.3,1572.9 860.9,1628.7 870.4,1571.0 879.0,1603.7 886.7,1628.7 895.3,1603.7 906.5,1592.2 914.2,1610.4 921.1,1664.2 930.5,1635.4 942.6,1624.8 953.8,1610.4 962.4,1618.1 973.5,1657.5 982.1,1610.4 993.3,1607.5 1003.6,1605.6 1013.9,1601.8 1026.8,1610.4 1039.7,1662.3 1047.5,1609.5 1065.5,1618.1 1074.1,1649.8 1083.6,1646.9 1092.2,1599.9 1101.7,1618.1 1110.3,1607.5 1119.7,1622.0 1135.2,1603.7 1144.6,1630.6 1151.5,1620.0 1162.7,1629.6 1168.7,1629.6 1185.1,1619.1 1194.5,1631.6 1202.3,1596.0 1211.7,1637.3 1220.3,1627.7 1228.9,1629.6 1236.6,1595.0 1245.2,1613.3 1253.0,1601.8 1262.4,1647.9 1270.2,1617.1 1277.9,1605.6 1288.2,1617.1 1297.7,1601.8 1307.2,1629.6 1314.9,1597.9 1320.9,1583.5 1329.5,1621.0 1339.0,1628.7 1347.6,1596.0 1357.0,1596.0 1365.6,1630.6 1382.0,1626.8 1389.7,1639.2 1396.6,1628.7 1407.8,1635.4 1422.4,1624.8 1436.1,1618.1 1443.9,1597.9 1451.6,1633.5 1461.1,1607.5 1469.7,1622.9 1477.4,1622.9 1486.0,1612.3 1495.5,1637.3 1504.1,1618.1 1515.2,1616.2 1529.0,1614.3 1538.5,1589.3 1547.1,1628.7 1565.1,1628.7 1579.7,1628.7 1590.9,1605.6 1599.5,1605.6 1609.0,1626.8 1617.6,1616.2 1625.3,1626.8 1635.6,1614.3 1648.5,1607.5 1660.6,1616.2 1672.6,1607.5 1685.5,1605.6 1705.3,1624.8 1719.0,1607.5 1728.5,1631.6 1737.1,1620.0 1746.5,1626.8 1755.1,1620.0 1762.9,1607.5 1773.2,1620.0 1789.5,1637.3 1798.1,1612.3 1805.0,1614.3 1814.5,1596.0 1823.1,1624.8 1834.2,1618.1 1841.1,1618.1 1850.6,1603.7 1859.2,1621.0 1865.2,1620.0" stroke="#CC79A7" stroke-width="4" fill="none" stroke-linejoin="round"/>
<polygon points="154.1,2408.7 164.1,2419.5 154.1,2430.3 144.1,2419.5" fill="#CC79A7"/>
<polygon points="369.1,1708.2 379.1,1719.0 369.1,1729.8 359.1,1719.0" fill="#CC79A7"/>
<polygon points="584.0,1630.4 594.0,1641.2 584.0,1652.0 574.0,1641.2" fill="#CC79A7"/>
<polygon points="799.0,1612.1 809.0,1622.9 799.0,1633.7 789.0,1622.9" fill="#CC79A7"/>
<polygon points="1013.9,1591.0 1023.9,1601.8 1013.9,1612.6 1003.9,1601.8" fill="#CC79A7"/>
<polygon points="1228.9,1618.8 1238.9,1629.6 1228.9,1640.4 1218.9,1629.6" fill="#CC79A7"/>
<polygon points="1443.9,1587.1 1453.9,1597.9 1443.9,1608.7 1433.9,1597.9" fill="#CC79A7"/>
<polygon points="1658.8,1604.2 1668.8,1615.0 1658.8,1625.8 1648.8,1615.0" fill="#CC79A7"/>
<polyline points="154.1,2419.5 156.7,2406.0 170.4,2331.1 181.6,2331.1 189.4,2295.5 198.0,2220.6 203.1,2322.4 214.3,2089.0 222.9,2157.2 230.6,2041.9 247.0,2061.1 255.6,2025.5 264.2,2143.7 273.6,1877.6 283.1,1959.2 291.7,2015.0 304.6,1939.0 319.2,1813.2 331.2,1778.6 345.8,1759.4 360.5,1840.1 369.1,1859.3 380.2,1801.6 392.3,1828.5 403.5,1683.5 412.9,1728.6 422.4,1759.4 430.1,1778.6 441.3,1747.8 445.6,1687.3 456.8,1679.6 472.2,1714.2 491.2,1709.4 502.3,1694.0 514.4,1668.1 525.6,1664.2 536.7,1668.1 548.8,1691.1 559.9,1652.7 571.1,1668.1 584.0,1721.9 594.3,1660.4 602.1,1645.0 613.3,1675.8 628.7,1702.7 639.9,1683.5 652.0,1714.2 663.1,1645.0 678.6,1629.6 689.8,1660.4 701.0,1668.1 712.1,1675.8 722.5,1569.1 735.4,1660.4 745.7,1674.8 749.1,1685.4 760.3,1636.4 768.9,1646.9 778.3,1667.1 787.8,1660.4 797.3,1659.4 806.7,1574.9 815.3,1641.2 824.8,1629.6 833.4,1593.1 841.1,1671.0 850.6,1650.8 857.5,1652.7 866.9,1650.8 876.4,1652.7 886.7,1663.3 892.7,1639.2 901.3,1672.9 909.0,1621.0 915.9,1629.6 922.8,1659.4 931.4,1653.7 940.0,1637.3 950.3,1663.3 958.9,1600.8 965.8,1629.6 977.0,1629.6 983.9,1625.8 991.6,1655.6 999.3,1621.0 1009.6,1639.2 1019.1,1621.0 1026.0,1641.2 1035.4,1615.2 1038.0,1613.3 1047.5,1631.6 1056.1,1591.2 1063.8,1646.0 1073.3,1637.3 1081.9,1663.3 1090.5,1651.7 1099.9,1622.9 1109.4,1605.6 1116.3,1581.6 1124.0,1639.2 1132.6,1659.4 1140.3,1629.6 1149.8,1661.3 1159.3,1631.6 1167.9,1649.8 1177.3,1631.6 1185.1,1621.0 1194.5,1641.2 1202.3,1623.9 1211.7,1631.6 1220.3,1673.8 1228.9,1656.5 1236.6,1668.1 1245.2,1609.5 1253.0,1639.2 1261.6,1613.3 1270.2,1667.1 1278.8,1647.9 1288.2,1631.6 1297.7,1637.3 1307.2,1635.4 1314.0,1653.7 1321.8,1622.0 1328.7,1623.9 1337.3,1629.6 1346.7,1647.9 1356.2,1637.3 1365.6,1642.1 1374.2,1665.2 1383.7,1640.2 1400.0,1622.9 1407.8,1671.9 1417.2,1639.2 1426.7,1646.0 1435.3,1635.4 1443.9,1635.4 1451.6,1640.2 1461.1,1627.7 1468.8,1653.7 1478.3,1625.8 1485.1,1644.1 1494.6,1660.4 1504.1,1644.1 1511.8,1667.1 1520.4,1640.2 1529.9,1636.4 1538.5,1623.9 1547.1,1641.2 1555.7,1657.5 1564.3,1649.8 1575.4,1631.6 1586.6,1627.7 1596.1,1625.8 1604.7,1639.2 1613.3,1639.2 1621.9,1617.1 1629.6,1626.8 1639.1,1641.2 1647.7,1643.1 1658.8,1639.2 1668.3,1637.3 1677.8,1641.2 1684.6,1649.8 1692.4,1635.4 1701.8,1653.7 1708.7,1621.0 1716.4,1639.2 1724.2,1641.2 1731.1,1629.6 1740.5,1643.1 1747.4,1639.2 1758.6,1623.9 1768.0,1629.6 1779.2,1635.4 1787.0,1657.5 1795.6,1649.8 1803.3,1629.6 1812.7,1633.5 1822.2,1631.6 1838.5,1623.9 1847.1,1643.1 1856.6,1641.2 1865.2,1649.8" stroke="#F0E442" stroke-width="4" fill="none" stroke-linejoin="round" stroke-dasharray="14.8 6.4"/>
<polygon points="154.1,2411.5 156.2,2416.7 161.7,2417.0 157.4,2420.6 158.8,2426.0 154.1,2423.0 149.4,2426.0 150.8,2420.6 146.5,2417.0 152.0,2416.7" fill="#F0E442" stroke="#F0E442" stroke-width="1.8" stroke-linejoin="bevel"/>
<polygon points="369.1,1851.3 371.1,1856.5 376.7,1856.8 372.4,1860.4 373.8,1865.8 369.1,1862.8 364.4,1865.8 365.7,1860.4 361.5,1856.8 367.0,1856.5" fill="#F0E442" stroke="#F0E442" stroke-width="1.8" stroke-linejoin="bevel"/>
<polygon points="584.0,1713.9 586.1,1719.1 591.6,1719.4 587.4,1723.0 588.7,1728.4 584.0,1725.4 579.3,1728.4 580.7,1723.0 576.4,1719.4 582.0,1719.1" fill="#F0E442" stroke="#F0E442" stroke-width="1.8" stroke-linejoin="bevel"/>
<polygon points="799.0,1636.1 801.0,1641.2 806.6,1641.6 802.3,1645.1 803.7,1650.5 799.0,1647.6 794.3,1650.5 795.7,1645.1 791.4,1641.6 796.9,1641.2" fill="#F0E442" stroke="#F0E442" stroke-width="1.8" stroke-linejoin="bevel"/>
<polygon points="1013.9,1623.0 1016.0,1628.1 1021.6,1628.5 1017.3,1632.0 1018.7,1637.4 1013.9,1634.5 1009.2,1637.4 1010.6,1632.0 1006.3,1628.5 1011.9,1628.1" fill="#F0E442" stroke="#F0E442" stroke-width="1.8" stroke-linejoin="bevel"/>
<polygon points="1228.9,1648.5 1231.0,1653.7 1236.5,1654.1 1232.2,1657.6 1233.6,1663.0 1228.9,1660.0 1224.2,1663.0 1225.6,1657.6 1221.3,1654.1 1226.9,1653.7" fill="#F0E442" stroke="#F0E442" stroke-width="1.8" stroke-linejoin="bevel"/>
<polygon points="1443.9,1627.4 1445.9,1632.6 1451.5,1632.9 1447.2,1636.5 1448.6,1641.9 1443.9,1638.9 1439.2,1641.9 1440.5,1636.5 1436.3,1632.9 1441.8,1632.6" fill="#F0E442" stroke="#F0E442" stroke-width="1.8" stroke-linejoin="bevel"/>
<polygon points="1658.8,1631.2 1660.9,1636.4 1666.4,1636.8 1662.2,1640.3 1663.5,1645.7 1658.8,1642.7 1654.1,1645.7 1655.5,1640.3 1651.2,1636.8 1656.8,1636.4" fill="#F0E442" stroke="#F0E442" stroke-width="1.8" stroke-linejoin="bevel"/>
<polyline points="154.1,2416.6 167.9,2402.2 186.8,2378.2 195.4,2419.5 203.1,2267.7 211.7,2193.7 216.9,2131.2 222.9,1937.1 231.5,1972.7 238.4,2035.1 248.7,1769.9 257.3,1894.8 265.9,1987.1 274.5,1939.0 283.1,1769.9 291.7,1891.0 302.0,1972.7 308.9,1843.0 317.5,1705.6 326.1,1766.1 331.2,1805.5 342.4,1767.0 353.6,1751.7 369.1,1772.8 384.5,1790.1 400.0,1794.0 411.2,1843.0 422.4,1747.8 433.5,1790.1 444.7,1708.4 456.8,1645.0 467.9,1782.4 476.5,1766.1 487.7,1721.9 502.3,1728.6 517.8,1664.2 530.7,1708.4 544.5,1683.5 556.5,1721.9 566.0,1763.2 575.4,1698.8 584.0,1683.5 596.9,1670.0 609.8,1614.3 622.7,1679.6 636.5,1683.5 652.8,1660.4 674.3,1675.8 693.2,1595.0 706.1,1689.2 719.9,1691.1 734.5,1650.8 739.7,1641.2 747.4,1615.2 754.3,1681.5 765.5,1665.2 774.9,1670.0 780.9,1587.4 787.8,1686.3 797.3,1655.6 805.9,1641.2 812.7,1646.0 822.2,1662.3 831.7,1666.2 842.0,1650.8 854.0,1637.3 860.9,1613.3 866.9,1589.3 876.4,1678.6 885.0,1705.6 893.6,1650.8 901.3,1577.8 913.3,1685.4 920.2,1607.5 928.0,1609.5 935.7,1674.8 945.2,1656.5 952.0,1615.2 959.8,1659.4 969.2,1674.8 977.8,1678.6 987.3,1685.4 998.5,1687.3 1007.9,1696.9 1013.9,1660.4 1022.5,1670.0 1032.9,1681.5 1038.0,1667.1 1046.6,1650.8 1056.1,1639.2 1063.8,1709.4 1072.4,1669.0 1081.9,1631.6 1090.5,1667.1 1099.9,1617.1 1109.4,1657.5 1116.3,1665.2 1124.0,1668.1 1132.6,1649.8 1140.3,1657.5 1149.8,1653.7 1159.3,1672.9 1167.9,1661.3 1176.5,1693.1 1185.1,1672.9 1194.5,1676.7 1202.3,1665.2 1211.7,1633.5 1220.3,1641.2 1228.9,1646.0 1236.6,1680.6 1245.2,1657.5 1253.0,1635.4 1261.6,1651.7 1270.2,1609.5 1277.9,1641.2 1288.2,1657.5 1297.7,1665.2 1307.2,1661.3 1314.0,1659.4 1320.9,1647.9 1330.4,1640.2 1339.0,1669.0 1348.4,1687.3 1359.6,1673.8 1365.6,1651.7 1372.5,1675.8 1382.0,1695.9 1388.8,1663.3 1398.3,1617.1 1406.0,1640.2 1415.5,1651.7 1424.1,1655.6 1433.6,1661.3 1443.9,1644.1 1451.6,1665.2 1461.1,1657.5 1470.5,1663.3 1478.3,1670.0 1486.9,1646.0 1496.3,1665.2 1505.8,1672.9 1512.7,1649.8 1522.1,1669.0 1529.9,1659.4 1538.5,1657.5 1547.9,1646.0 1557.4,1653.7 1564.3,1659.4 1573.7,1642.1 1583.2,1646.9 1590.9,1653.7 1597.8,1659.4 1605.5,1674.8 1615.0,1695.9 1621.9,1651.7 1631.3,1669.0 1640.8,1667.1 1650.2,1674.8 1658.8,1685.4 1666.6,1659.4 1676.0,1651.7 1682.9,1670.0 1692.4,1693.1 1701.0,1674.8 1708.7,1653.7 1716.4,1673.8 1727.6,1657.5 1734.5,1657.5 1744.0,1651.7 1753.4,1657.5 1761.2,1672.9 1769.8,1642.1 1779.2,1661.3 1788.7,1663.3 1795.6,1672.9 1803.3,1669.0 1811.0,1671.0 1819.6,1665.2 1829.1,1637.3 1834.2,1653.7 1842.0,1679.6 1851.4,1657.5 1856.6,1640.2 1865.2,1661.3" stroke="#56B4E9" stroke-width="4" fill="none" stroke-linejoin="round" stroke-dasharray="4 6.6"/>
<path d="M146.0 2408.5L162.2 2424.7M146.0 2424.7L162.2 2408.5" stroke="#56B4E9" stroke-width="2.6" fill="none"/>
<path d="M361.0 1764.7L377.2 1780.9M361.0 1780.9L377.2 1764.7" stroke="#56B4E9" stroke-width="2.6" fill="none"/>
<path d="M575.9 1675.4L592.1 1691.6M575.9 1691.6L592.1 1675.4" stroke="#56B4E9" stroke-width="2.6" fill="none"/>
<path d="M790.9 1644.6L807.1 1660.8M790.9 1660.8L807.1 1644.6" stroke="#56B4E9" stroke-width="2.6" fill="none"/>
<path d="M1005.8 1652.3L1022.0 1668.5M1005.8 1668.5L1022.0 1652.3" stroke="#56B4E9" stroke-width="2.6" fill="none"/>
<path d="M1220.8 1637.9L1237.0 1654.1M1220.8 1654.1L1237.0 1637.9" stroke="#56B4E9" stroke-width="2.6" fill="none"/>
<path d="M1435.8 1636.0L1452.0 1652.2M1435.8 1652.2L1452.0 1636.0" stroke="#56B4E9" stroke-width="2.6" fill="none"/>
<path d="M1650.7 1677.3L1666.9 1693.5M1650.7 1693.5L1666.9 1677.3" stroke="#56B4E9" stroke-width="2.6" fill="none"/>
</g>
<rect x="145.5" y="1458.6" width="1719.7" height="960.9" fill="none" stroke="#000" stroke-width="2.5"/>
<path d="M145.5 2419.5v9.4M489.4 2419.5v9.4M833.4 2419.5v9.4M1177.3 2419.5v9.4M1521.3 2419.5v9.4M1865.2 2419.5v9.4M145.5 2419.5h-9.2M145.5 2227.3h-9.2M145.5 2035.1h-9.2M145.5 1843.0h-9.2M145.5 1650.8h-9.2M145.5 1458.6h-9.2" stroke="#000" stroke-width="2.3" fill="none"/>
<path d="M317.5 2419.5v5.7M661.4 2419.5v5.7M1005.3 2419.5v5.7M1349.3 2419.5v5.7M1693.2 2419.5v5.7" stroke="#000" stroke-width="1.4" fill="none"/>
<g font-family="'Liberation Serif','Times New Roman',serif" font-size="27.3" fill="#000">
<text x="145.5" y="2457.3" text-anchor="middle">0</text>
<text x="489.4" y="2457.3" text-anchor="middle">40</text>
<text x="833.4" y="2457.3" text-anchor="middle">80</text>
<text x="1177.3" y="2457.3" text-anchor="middle">120</text>
<text x="1521.3" y="2457.3" text-anchor="middle">160</text>
<text x="1865.2" y="2457.3" text-anchor="middle">200</text>
<text x="127.2" y="2428.6" text-anchor="end">0</text>
<text x="127.2" y="2236.4" text-anchor="end">20</text>
<text x="127.2" y="2044.2" text-anchor="end">40</text>
<text x="127.2" y="1852.1" text-anchor="end">60</text>
<text x="127.2" y="1659.9" text-anchor="end">80</text>
<text x="127.2" y="1467.7" text-anchor="end">100</text>
</g>
<text x="1005.3" y="1443.2" font-family="'Liberation Serif','Times New Roman',serif" font-size="37" text-anchor="middle">Training curve for insulator defect detection</text>
<text x="1005.3" y="2494.2" font-family="'Liberation Serif','Times New Roman',serif" font-size="31.6" font-weight="bold" text-anchor="middle">Epoch</text>
<text transform="translate(67.1,1939.0) rotate(-90)" font-family="'Liberation Serif','Times New Roman',serif" font-size="47.8" font-weight="bold" text-anchor="middle">mAP50 (%)</text>
<rect x="1563.6" y="2173.6" width="287.2" height="233.0" rx="4" fill="#fff" fill-opacity="0.8" stroke="#808080" stroke-width="2.6"/>
<path d="M1574.5 2193.6H1627.2" stroke="#0072B2" stroke-width="5.8" stroke-linecap="square"/>
<circle cx="1600.9" cy="2193.6" r="7.9" fill="#0072B2"/>
<text x="1649.2" y="2202.9" font-family="'Liberation Serif','Times New Roman',serif" font-size="26.5">DNGCA-Net</text>
<path d="M1574.5 2231.0H1627.2" stroke="#D55E00" stroke-width="4" stroke-dasharray="14.8 6.4"/>
<rect x="1593.2" y="2223.3" width="15.5" height="15.5" fill="#D55E00"/>
<text x="1649.2" y="2240.3" font-family="'Liberation Serif','Times New Roman',serif" font-size="26.5">YOLO-PowerLite</text>
<path d="M1574.5 2268.5H1627.2" stroke="#009E73" stroke-width="4" stroke-dasharray="25.6 6.4 4 6.4"/>
<polygon points="1600.9,2258.8 1592.1,2276.3 1609.7,2276.3" fill="#009E73"/>
<text x="1649.2" y="2277.8" font-family="'Liberation Serif','Times New Roman',serif" font-size="26.5">YOLO-HF</text>
<path d="M1574.5 2305.9H1627.2" stroke="#CC79A7" stroke-width="4" stroke-linecap="square"/>
<polygon points="1600.9,2295.1 1610.9,2305.9 1600.9,2316.8 1590.9,2305.9" fill="#CC79A7"/>
<text x="1649.2" y="2315.2" font-family="'Liberation Serif','Times New Roman',serif" font-size="26.5">YOLOv8n</text>
<path d="M1574.5 2343.4H1627.2" stroke="#F0E442" stroke-width="4" stroke-dasharray="14.8 6.4"/>
<polygon points="1600.9,2335.4 1603.0,2340.6 1608.5,2340.9 1604.2,2344.5 1605.6,2349.9 1600.9,2346.9 1596.2,2349.9 1597.6,2344.5 1593.3,2340.9 1598.8,2340.6" fill="#F0E442" stroke="#F0E442" stroke-width="1.8" stroke-linejoin="bevel"/>
<text x="1649.2" y="2352.7" font-family="'Liberation Serif','Times New Roman',serif" font-size="26.5">YOLOv7</text>
<path d="M1574.5 2380.8H1627.2" stroke="#56B4E9" stroke-width="4" stroke-dasharray="4 6.6"/>
<path d="M1592.8 2372.8L1609.0 2388.9M1592.8 2388.9L1609.0 2372.8" stroke="#56B4E9" stroke-width="2.6" fill="none"/>
<text x="1649.2" y="2390.2" font-family="'Liberation Serif','Times New Roman',serif" font-size="26.5">YOLOv7-tiny</text>
<text x="377.8" y="1273.8" font-family="'Liberation Serif','Times New Roman',serif" font-size="78" textLength="23.9" lengthAdjust="spacingAndGlyphs">(</text>
<text x="400.8" y="1273.8" font-family="'Liberation Serif','Times New Roman',serif" font-size="78" textLength="35.4" lengthAdjust="spacingAndGlyphs" font-weight="bold">a</text>
<text x="437.7" y="1273.8" font-family="'Liberation Serif','Times New Roman',serif" font-size="78" textLength="24.0" lengthAdjust="spacingAndGlyphs">)</text>
<text x="481.6" y="1273.8" font-family="'Liberation Serif','Times New Roman',serif" font-size="78" textLength="125.4" lengthAdjust="spacingAndGlyphs">The</text>
<text x="626.0" y="1273.8" font-family="'Liberation Serif','Times New Roman',serif" font-size="78" textLength="298.2" lengthAdjust="spacingAndGlyphs">variation</text>
<text x="941.7" y="1273.8" font-family="'Liberation Serif','Times New Roman',serif" font-size="78" textLength="188.0" lengthAdjust="spacingAndGlyphs">curve</text>
<text x="1144.7" y="1273.8" font-family="'Liberation Serif','Times New Roman',serif" font-size="78" textLength="67.1" lengthAdjust="spacingAndGlyphs">of</text>
<text x="1232.0" y="1273.8" font-family="'Liberation Serif','Times New Roman',serif" font-size="78" textLength="309.3" lengthAdjust="spacingAndGlyphs">Accuracy</text>
<text x="365.8" y="2629.4" font-family="'Liberation Serif','Times New Roman',serif" font-size="78" textLength="25.8" lengthAdjust="spacingAndGlyphs">(</text>
<text x="394.5" y="2629.4" font-family="'Liberation Serif','Times New Roman',serif" font-size="78" textLength="40.9" lengthAdjust="spacingAndGlyphs" font-weight="bold">b</text>
<text x="434.5" y="2629.4" font-family="'Liberation Serif','Times New Roman',serif" font-size="78" textLength="26.0" lengthAdjust="spacingAndGlyphs">)</text>
<text x="480.2" y="2629.4" font-family="'Liberation Serif','Times New Roman',serif" font-size="78" textLength="122.7" lengthAdjust="spacingAndGlyphs">The</text>
<text x="623.2" y="2629.4" font-family="'Liberation Serif','Times New Roman',serif" font-size="78" textLength="296.6" lengthAdjust="spacingAndGlyphs">variation</text>
<text x="938.3" y="2629.4" font-family="'Liberation Serif','Times New Roman',serif" font-size="78" textLength="187.8" lengthAdjust="spacingAndGlyphs">curve</text>
<text x="1143.3" y="2629.4" font-family="'Liberation Serif','Times New Roman',serif" font-size="78" textLength="65.3" lengthAdjust="spacingAndGlyphs">of</text>
<text x="1229.5" y="2629.4" font-family="'Liberation Serif','Times New Roman',serif" font-size="78" textLength="58.7" lengthAdjust="spacingAndGlyphs" font-style="italic">m</text>
<text x="1296.8" y="2629.4" font-family="'Liberation Serif','Times New Roman',serif" font-size="78" textLength="49.2" lengthAdjust="spacingAndGlyphs" font-style="italic">A</text>
<text x="1351.3" y="2629.4" font-family="'Liberation Serif','Times New Roman',serif" font-size="78" textLength="46.2" lengthAdjust="spacingAndGlyphs" font-style="italic">P</text>
<text x="1394.9" y="2629.4" font-family="'Liberation Serif','Times New Roman',serif" font-size="78" textLength="77.9" lengthAdjust="spacingAndGlyphs">50</text>
<text x="1472.6" y="2629.4" font-family="'Liberation Serif','Times New Roman',serif" font-size="78" textLength="61.8" lengthAdjust="spacingAndGlyphs">%</text>
</svg></body></html>
